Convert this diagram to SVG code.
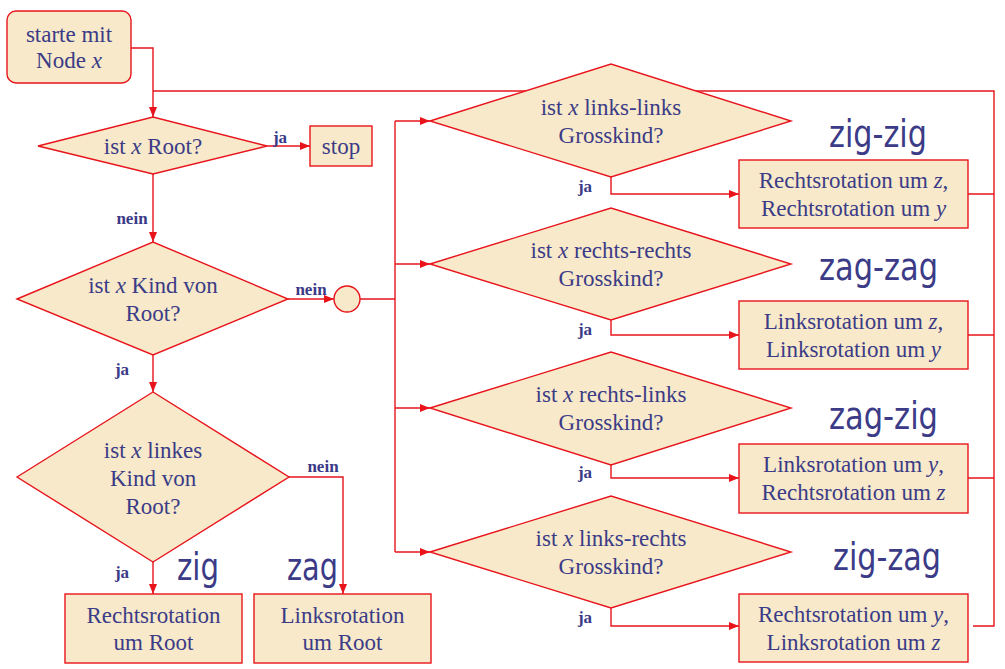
<svg xmlns="http://www.w3.org/2000/svg" width="1005" height="669" viewBox="0 0 1005 669">
<defs>
<style>
.n{fill:#f7e9c9;stroke:#e8141c;stroke-width:1.4}
.c{fill:none;stroke:#e8141c;stroke-width:1.4}
.t{font-family:"Liberation Serif","Times New Roman",serif;font-size:23px;fill:#3b3b87;text-anchor:middle}
.l{font-family:"Liberation Serif","Times New Roman",serif;font-size:17px;font-weight:bold;fill:#3b3b87;text-anchor:middle}
.b{font-family:"DejaVu Sans","Liberation Sans",sans-serif;font-size:37px;fill:#3b3b87}
.i{font-style:italic}
</style>
<marker id="a" markerWidth="10" markerHeight="8" refX="10" refY="4" orient="auto" markerUnits="userSpaceOnUse">
<path d="M0,0 L10,4 L0,8 z" fill="#e8141c"/>
</marker>
</defs>
<rect width="1005" height="669" fill="#ffffff"/>
<g id="connectors">
<path class="c" d="M131,48 H153 V117" marker-end="url(#a)"/>
<path class="c" d="M968,194 H994 M968,335 H994 M968,478 H994 M973,626 H994 V91 H153"/>
<path class="c" d="M267,146 H310" marker-end="url(#a)"/>
<path class="c" d="M153,174 V242" marker-end="url(#a)"/>
<path class="c" d="M288,299 H334" marker-end="url(#a)"/>
<path class="c" d="M360,299 H395 M395,121 V552"/>
<path class="c" d="M395,121 H430" marker-end="url(#a)"/>
<path class="c" d="M395,264 H430" marker-end="url(#a)"/>
<path class="c" d="M395,408 H430" marker-end="url(#a)"/>
<path class="c" d="M395,552 H430" marker-end="url(#a)"/>
<path class="c" d="M153,355 V392" marker-end="url(#a)"/>
<path class="c" d="M153,562 V594" marker-end="url(#a)"/>
<path class="c" d="M289,477 H343 V594" marker-end="url(#a)"/>
<path class="c" d="M611,177 V194 H739" marker-end="url(#a)"/>
<path class="c" d="M611,320 V335 H739" marker-end="url(#a)"/>
<path class="c" d="M611,465 V478 H739" marker-end="url(#a)"/>
<path class="c" d="M611,608 V626 H739" marker-end="url(#a)"/>
<text class="l" x="280" y="143">ja</text>
<text class="l" x="132" y="224">nein</text>
<text class="l" x="311" y="295">nein</text>
<text class="l" x="122" y="375">ja</text>
<text class="l" x="323" y="472">nein</text>
<text class="l" x="122" y="578">ja</text>
<text class="l" x="585" y="192">ja</text>
<text class="l" x="585" y="335">ja</text>
<text class="l" x="585" y="478">ja</text>
<text class="l" x="585" y="623">ja</text>
</g>
<g id="start">
<rect class="n" x="7" y="11" width="124" height="72" rx="9"/>
<text class="t" x="69" y="42">starte mit</text>
<text class="t" x="69" y="68">Node <tspan class="i">x</tspan></text>
</g>
<g id="isRoot">
<polygon class="n" points="38,146 153,117 267,146 153,174"/>
<text class="t" x="153" y="154">ist <tspan class="i">x</tspan> Root?</text>
</g>
<g id="stop">
<rect class="n" x="310" y="126" width="62" height="40"/>
<text class="t" x="341" y="154">stop</text>
</g>
<g id="isChild">
<polygon class="n" points="17,299 153,242 288,299 153,355"/>
<text class="t" x="153" y="293">ist <tspan class="i">x</tspan> Kind von</text>
<text class="t" x="153" y="321">Root?</text>
</g>
<g id="junction">
<circle class="n" cx="347" cy="299" r="13"/>
</g>
<g id="isLeftChild">
<polygon class="n" points="17,477 153,392 289,477 153,562"/>
<text class="t" x="153" y="458">ist <tspan class="i">x</tspan> linkes</text>
<text class="t" x="153" y="486">Kind von</text>
<text class="t" x="153" y="514">Root?</text>
</g>
<g id="rotRight">
<rect class="n" x="65" y="594" width="177" height="69"/>
<text class="t" x="153.5" y="623">Rechtsrotation</text>
<text class="t" x="153.5" y="650">um Root</text>
</g>
<g id="rotLeft">
<rect class="n" x="254" y="594" width="177" height="69"/>
<text class="t" x="342.5" y="623">Linksrotation</text>
<text class="t" x="342.5" y="650">um Root</text>
</g>
<g id="zigLabels">
<text class="b" x="177" y="580" textLength="42" lengthAdjust="spacingAndGlyphs">zig</text>
<text class="b" x="287" y="580" textLength="51" lengthAdjust="spacingAndGlyphs">zag</text>
<text class="b" x="829" y="147" textLength="98" lengthAdjust="spacingAndGlyphs">zig-zig</text>
<text class="b" x="819" y="280" textLength="119" lengthAdjust="spacingAndGlyphs">zag-zag</text>
<text class="b" x="829" y="429" textLength="109" lengthAdjust="spacingAndGlyphs">zag-zig</text>
<text class="b" x="833" y="570" textLength="108" lengthAdjust="spacingAndGlyphs">zig-zag</text>
</g>
<g id="llGrand">
<polygon class="n" points="430,121 611,64 791,121 611,177"/>
<text class="t" x="611" y="115">ist <tspan class="i">x</tspan> links-links</text>
<text class="t" x="611" y="143">Grosskind?</text>
</g>
<g id="rrGrand">
<polygon class="n" points="430,264 611,208 791,264 611,320"/>
<text class="t" x="611" y="258">ist <tspan class="i">x</tspan> rechts-rechts</text>
<text class="t" x="611" y="286">Grosskind?</text>
</g>
<g id="rlGrand">
<polygon class="n" points="430,408 611,352 791,408 611,465"/>
<text class="t" x="611" y="402">ist <tspan class="i">x</tspan> rechts-links</text>
<text class="t" x="611" y="430">Grosskind?</text>
</g>
<g id="lrGrand">
<polygon class="n" points="430,552 611,496 791,552 611,608"/>
<text class="t" x="611" y="546">ist <tspan class="i">x</tspan> links-rechts</text>
<text class="t" x="611" y="574">Grosskind?</text>
</g>
<g id="zigzigBox">
<rect class="n" x="739" y="160" width="229" height="68"/>
<text class="t" x="853.5" y="188">Rechtsrotation um <tspan class="i">z</tspan>,</text>
<text class="t" x="853.5" y="216">Rechtsrotation um <tspan class="i">y</tspan></text>
</g>
<g id="zagzagBox">
<rect class="n" x="739" y="301" width="229" height="68"/>
<text class="t" x="853.5" y="329">Linksrotation um <tspan class="i">z</tspan>,</text>
<text class="t" x="853.5" y="357">Linksrotation um <tspan class="i">y</tspan></text>
</g>
<g id="zagzigBox">
<rect class="n" x="739" y="444" width="229" height="69"/>
<text class="t" x="853.5" y="472">Linksrotation um <tspan class="i">y</tspan>,</text>
<text class="t" x="853.5" y="500">Rechtsrotation um <tspan class="i">z</tspan></text>
</g>
<g id="zigzagBox">
<rect class="n" x="739" y="594" width="229" height="68"/>
<text class="t" x="853.5" y="622">Rechtsrotation um <tspan class="i">y</tspan>,</text>
<text class="t" x="853.5" y="650">Linksrotation um <tspan class="i">z</tspan></text>
</g>
</svg>
